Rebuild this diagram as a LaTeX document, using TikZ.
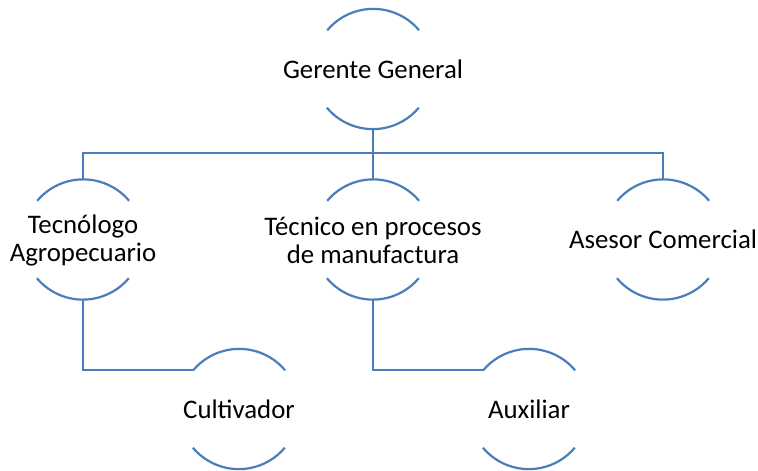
\documentclass[tikz,border=0pt]{standalone}
\usepackage{fontspec}
\setmainfont{Carlito}
\definecolor{linec}{HTML}{4A7EBB}
\begin{document}
\begin{tikzpicture}[x=1pt,y=1pt,
  ring/.style={circle, minimum size=120pt, inner sep=0pt, draw=none},
  lbl/.style={font=\fontsize{26.8}{28.5}\selectfont, align=center, text=black, inner sep=0pt},
  conn/.style={draw=linec, line width=2.2pt},
  arcline/.style={draw=linec, line width=2.2pt}]
\fill[white] (0,0) rectangle (758,-471);
\useasboundingbox (0,0) rectangle (758,-471);
% circles
\node[ring] (g) at (373,-69) {};
\node[ring] (t) at (83,-239.5) {};
\node[ring] (m) at (373,-239.5) {};
\node[ring] (a) at (663,-239.5) {};
\node[ring] (c) at (239,-409) {};
\node[ring] (x) at (529,-409) {};
% labels
\node[lbl] (gl) at (g) {Gerente General};
\node[lbl] (tl) at ([yshift=-1pt]t) {Tecnólogo\\Agropecuario};
\node[lbl] (ml) at ([yshift=-1pt]m) {Técnico en procesos\\de manufactura};
\node[lbl] (al) at (a) {Asesor Comercial};
\node[lbl] (cl) at (c) {Cultivador};
\node[lbl] (xl) at (x) {Auxiliar};
% arcs
\foreach \n in {g,t,m,a,c,x}{
  \draw[arcline] (\n.40) arc[start angle=40, end angle=140, radius=60pt];
  \draw[arcline] (\n.220) arc[start angle=220, end angle=320, radius=60pt];
}
% connectors
\coordinate (bus) at (0,-153);
\draw[conn] (g.south) -- (g.south |- bus);
\draw[conn] (t.north) |- (a.north |- bus) -- (a.north);
\draw[conn] (m.north) -- (m.north |- bus);
\draw[conn] (t.south) |- (c.140);
\draw[conn] (m.south) |- (x.140);
\end{tikzpicture}
\end{document}
